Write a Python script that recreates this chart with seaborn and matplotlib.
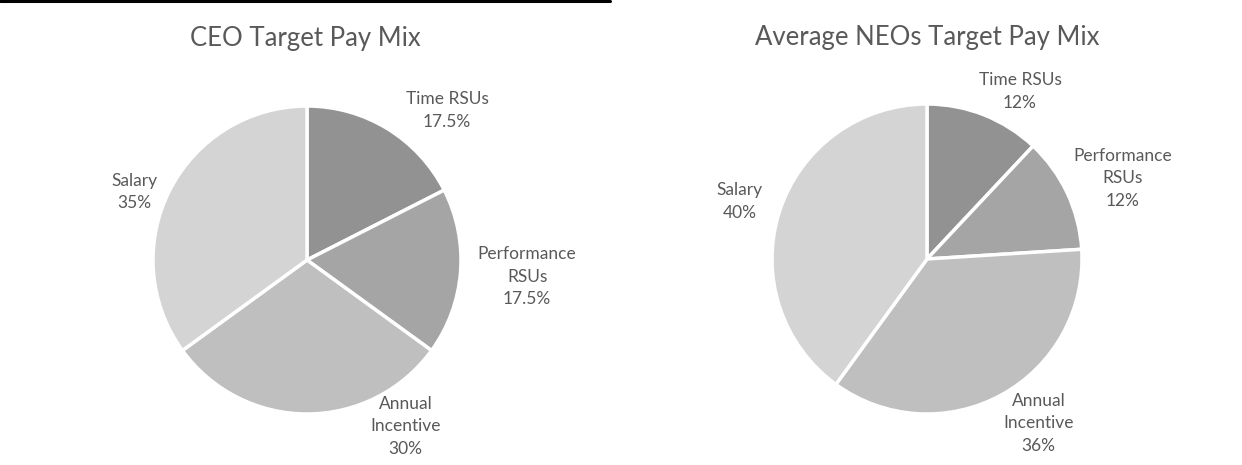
import matplotlib
matplotlib.use("Agg")
import matplotlib.pyplot as plt
from matplotlib.lines import Line2D
import seaborn as sns

# ---- data ----
categories = ["Time RSUs", "Performance RSUs", "Annual Incentive", "Salary"]
ceo_values = [17.5, 17.5, 30, 35]
neo_values = [12, 12, 36, 40]
ceo_label_text = ["Time RSUs\n17.5%", "Performance\nRSUs\n17.5%", "Annual\nIncentive\n30%", "Salary\n35%"]
neo_label_text = ["Time RSUs\n12%", "Performance\nRSUs\n12%", "Annual\nIncentive\n36%", "Salary\n40%"]
titles = ["CEO Target Pay Mix", "Average NEOs Target Pay Mix"]

# ---- style ----
sns.set_theme(style="white")
plt.rcParams["font.family"] = ["Lato", "DejaVu Sans"]
colors = ["#929292", "#a5a5a5", "#bfbfbf", "#d4d4d4"]
text_color = "#595959"

W, H = 1242, 465
fig = plt.figure(figsize=(W / 100, H / 100), dpi=100)

# layout (pixel geometry of each pie)
panels = [
    dict(x0=0, x1=620, cx=307, cy=260, r=154,
         offs=[(0.91, 0.97), (1.43, -0.11), (0.64, -1.08), (-1.12, 0.44)],
         tx=305, ty=38),
    dict(x0=621, x1=1242, cx=927, cy=259, r=155,
         offs=[(0.60, 1.08), (1.26, 0.52), (0.72, -1.06), (-1.21, 0.37)],
         tx=927, ty=37),
]
values_list = [ceo_values, neo_values]
labels_list = [ceo_label_text, neo_label_text]

for p, vals, labs, title in zip(panels, values_list, labels_list, titles):
    ax = fig.add_axes([p["x0"] / W, 0, (p["x1"] - p["x0"]) / W, 1])
    ax.pie(vals, colors=colors, startangle=90, counterclock=False,
           wedgeprops=dict(edgecolor="white", linewidth=2.5))
    ax.set_aspect("auto")
    ax.set_xlim((p["x0"] - p["cx"]) / p["r"], (p["x1"] - p["cx"]) / p["r"])
    ax.set_ylim((p["cy"] - H) / p["r"], p["cy"] / p["r"])
    ax.axis("off")
    for (dx, dy), t in zip(p["offs"], labs):
        ax.text(dx, dy, t, ha="center", va="center", fontsize=12.5,
                color=text_color, linespacing=1.5)
    fig.text(p["tx"] / W, 1 - p["ty"] / H, title, ha="center", va="center",
             fontsize=18.5, color=text_color)

fig.add_artist(Line2D([0, 610 / W], [1 - 1 / H, 1 - 1 / H], color="black",
                      linewidth=2.2, transform=fig.transFigure))

fig.savefig("out.png", dpi=100, facecolor="white")
